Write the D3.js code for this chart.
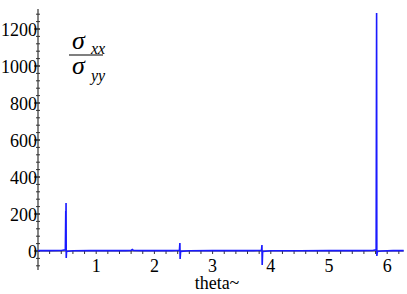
<!DOCTYPE html>
<html>
<head>
<meta charset="utf-8">
<script src="https://cdn.jsdelivr.net/npm/d3@7"></script>
<style>
	body { margin: 0; background: #fff; font-family: "Liberation Serif", serif; }
	svg text { font-family: "Liberation Serif", "Times New Roman", serif; }
	#warm { position: absolute; left: -999px; top: -999px; font-family: "Liberation Serif"; font-size: 18px; }
</style>
</head>
<body>
<div id="warm">0123456789 theta~ <i>σ xx yy</i></div>
<div id="chart"></div>
<script>

// curve samples (theta, sigma_xx/sigma_yy)
let theta = [0, 0.2, 0.4, 0.47, 0.477, 0.479, 0.482, 0.485, 0.49, 0.6, 0.9, 1.2, 1.5, 1.6, 1.62, 1.64, 1.8, 2.1, 2.3, 2.43, 2.438, 2.442, 2.45, 2.6, 3.0, 3.4, 3.7, 3.84, 3.848, 3.852, 3.86, 4.0, 4.5, 5.0, 5.5, 5.75, 5.81, 5.818, 5.822, 5.83, 5.9, 6.1, 6.283];
let ratio = [2, 2, 3, 6, 216, 120, 260, -38, -3, 1, 2, 2, 2, 3, 8, 3, 2, 2, 2, 4, 43, -43, -2, 1, 2, 2, 2, 4, 32, -76, -3, 1, 1, 2, 2, 3, 6, 1286, -27, -3, 0, 2, 2];

let xTicks = [1, 2, 3, 4, 5, 6];
let yTicks = [0, 200, 400, 600, 800, 1000, 1200];

function drawChart() {
	d3.select("#chart").selectAll("*").remove();
	let width = 407, height = 294;
	let svg = d3.select("#chart")
		.append("svg")
		.attr("width", width)
		.attr("height", height);

	let xScale = d3.scaleLinear().domain([0, 2 * Math.PI]).range([38, 38 + 2 * Math.PI * 58.2]);
	let yScale = d3.scaleLinear().domain([0, 1200]).range([251, 29]);

	let axisColor = "#333";

	// y axis
	svg.append("line")
		.attr("x1", xScale(0)).attr("x2", xScale(0))
		.attr("y1", yScale(1308)).attr("y2", yScale(-103))
		.attr("stroke", axisColor).attr("stroke-width", 1.2);

	let yMinor = d3.range(-80, 1301, 40);
	svg.selectAll(".ymin").data(yMinor).enter().append("line")
		.attr("x1", xScale(0) - 2).attr("x2", xScale(0) + 2)
		.attr("y1", d => yScale(d)).attr("y2", d => yScale(d))
		.attr("stroke", axisColor).attr("stroke-width", 1);

	svg.selectAll(".ymaj").data(yTicks).enter().append("line")
		.attr("x1", xScale(0) - 4).attr("x2", xScale(0) + 2)
		.attr("y1", d => yScale(d)).attr("y2", d => yScale(d))
		.attr("stroke", axisColor).attr("stroke-width", 1.2);

	svg.selectAll(".ylab").data(yTicks).enter().append("text")
		.attr("x", xScale(0) - 1)
		.attr("y", d => yScale(d) + 7)
		.attr("font-size", 18)
		.attr("text-anchor", "end")
		.style("font-family", "Liberation Serif")
		.text(d => d);

	// x axis
	svg.append("line")
		.attr("x1", xScale(0)).attr("x2", xScale(2 * Math.PI))
		.attr("y1", yScale(0)).attr("y2", yScale(0))
		.attr("stroke", axisColor).attr("stroke-width", 1.2);

	let xMinor = d3.range(0.2, 6.29, 0.2);
	svg.selectAll(".xmin").data(xMinor).enter().append("line")
		.attr("x1", d => xScale(d)).attr("x2", d => xScale(d))
		.attr("y1", yScale(0)).attr("y2", yScale(0) + 3)
		.attr("stroke", axisColor).attr("stroke-width", 1);

	svg.selectAll(".xlab").data(xTicks).enter().append("text")
		.attr("x", d => xScale(d))
		.attr("y", 272)
		.attr("font-size", 18)
		.attr("text-anchor", "middle")
		.style("font-family", "Liberation Serif")
		.text(d => d);

	svg.append("text")
		.attr("x", 217).attr("y", 289)
		.attr("font-size", 18)
		.attr("text-anchor", "middle")
		.style("font-family", "Liberation Serif")
		.text("theta~");

	// curve
	let pts = theta.map((t, i) => [t, ratio[i]]);
	svg.append("path")
		.datum(pts)
		.attr("d", d3.line()
			.x(d => xScale(d[0]))
			.y(d => yScale(d[1])))
		.attr("fill", "none")
		.attr("stroke", "#1a1aff")
		.attr("stroke-width", 1.6);

	// sigma_xx / sigma_yy label
	let labTexts = [
		{ t: "σ", x: 72, y: 49, s: 26 },
		{ t: "xx", x: 91, y: 54, s: 16 },
		{ t: "σ", x: 72, y: 74, s: 26 },
		{ t: "yy", x: 91, y: 81, s: 16 }
	];
	svg.selectAll(".lab").data(labTexts).enter().append("text")
		.attr("x", d => d.x).attr("y", d => d.y)
		.attr("font-size", d => d.s)
		.style("font-family", "Liberation Serif")
		.style("font-style", "italic")
		.text(d => d.t);
	svg.append("line").attr("x1", 69).attr("x2", 103).attr("y1", 55).attr("y2", 55)
		.attr("stroke", "#000").attr("stroke-width", 1.2);
}

drawChart();
// redraw once the serif face is ready, in case the first pass fell back
if (document.fonts && document.fonts.load) {
	Promise.all([
		document.fonts.load('18px "Liberation Serif"'),
		document.fonts.load('italic 26px "Liberation Serif"')
	]).then(drawChart).catch(() => {});
}
</script>
</body>
</html>
